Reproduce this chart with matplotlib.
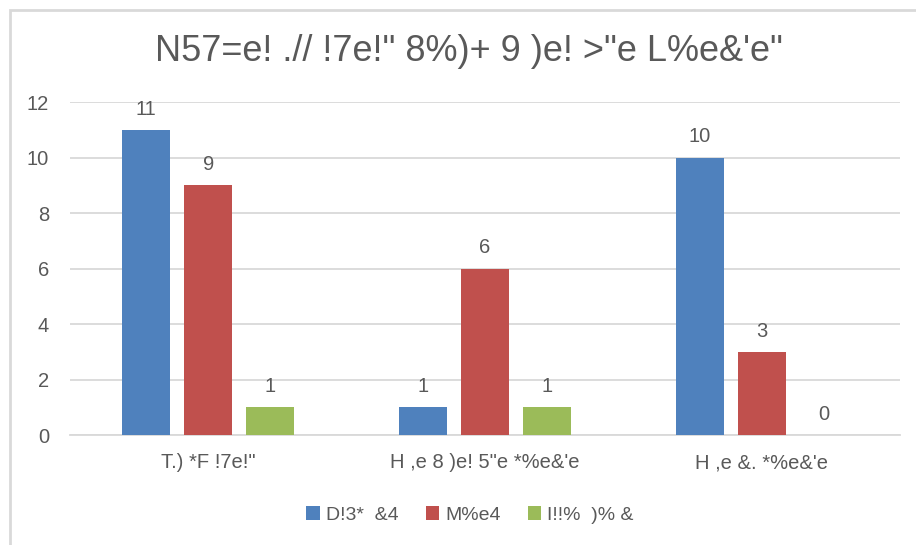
import matplotlib.pyplot as plt
import numpy as np
from matplotlib.patches import Rectangle

plt.rcParams["font.family"] = ["Liberation Sans Narrow", "Liberation Sans", "DejaVu Sans"]

title = "N57=e! .// !7e!\" 8%)+ 9 )e! >\"e L%e&'e\""
categories = ["T.) *F !7e!\"", "H ,e 8 )e! 5\"e *%e&'e", "H ,e &. *%e&'e"]
series_names = ["D!3*  &4", "M%e4", "I!!%  )% &"]
blue_vals = [11, 1, 10]
red_vals = [9, 6, 3]
green_vals = [1, 1, 0]

colors = ["#4F81BD", "#C0504D", "#9BBB59"]
text_color = "#595959"
grid_color = "#D9D9D9"

fig = plt.figure(figsize=(9.16, 5.45), dpi=100)
ax = fig.add_axes([0.0764, 0.2018, 0.9061, 0.611])

x = np.arange(len(categories))
slot = 0.224
width = 0.173
for i, (vals, name) in enumerate(zip([blue_vals, red_vals, green_vals], series_names)):
    bars = ax.bar(x + (i - 1) * slot, vals, width, color=colors[i], label=name, zorder=3)
    ax.bar_label(bars, padding=8, fontsize=14.5, color=text_color)

ax.set_xlim(-0.5, len(categories) - 0.5)
ax.set_ylim(0, 12)
ax.set_yticks(range(0, 13, 2))
ax.set_xticks(x)
ax.set_xticklabels(categories)
ax.tick_params(axis="both", length=0, labelsize=14.5, labelcolor=text_color)
ax.tick_params(axis="y", pad=15)
ax.tick_params(axis="x", pad=13)
ax.yaxis.grid(True, color=grid_color, lw=1.3, zorder=0)
for side in ["top", "right", "left"]:
    ax.spines[side].set_visible(False)
ax.spines["bottom"].set_color(grid_color)
ax.spines["bottom"].set_linewidth(1.3)

fig.text(0.512, 0.905, title, ha="center", va="center", fontsize=26, color=text_color)

fig.legend(loc="center", bbox_to_anchor=(0.513, 0.055),
           ncol=3, frameon=False, fontsize=14, labelcolor=text_color,
           handlelength=0.7, handleheight=0.7, handletextpad=0.3, columnspacing=1.4)

# outer chart border (left and top edges only visible)
fig.add_artist(Rectangle((10 / 916, -0.1), 1.2, 1.1 - 10 / 545, transform=fig.transFigure,
                         fill=False, edgecolor=grid_color, lw=2))

fig.savefig("out.png", dpi=100)
